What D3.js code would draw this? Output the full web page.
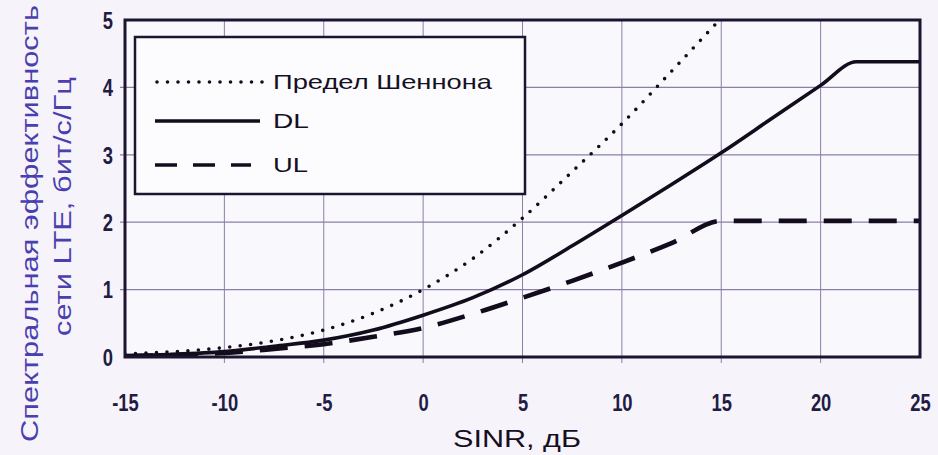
<!DOCTYPE html>
<html>
<head>
<meta charset="utf-8">
<script src="https://cdn.jsdelivr.net/npm/d3@7"></script>
<style>
  body { margin: 0; background: #f6f4fa; }
  svg { display: block; }
  .tick-label { font-family: "Liberation Sans", Arial, sans-serif; font-weight: bold; font-size: 23px; fill: #221c44; }
</style>
</head>
<body>
<script>
var sinr = [-15, -12.5, -10, -7.5, -5, -2.5, 0, 2.5, 5, 7.5, 10, 12.5, 15];
var shannon = [0.045, 0.08, 0.14, 0.24, 0.40, 0.65, 1.0, 1.46, 2.06, 2.75, 3.46, 4.24, 5.03];

var sinrDL = [-15, -12.5, -10, -7.5, -5, -2.5, 0, 2.5, 5, 7.5, 10, 12.5, 15, 17.5, 20, 21.8, 25];
var dl = [0.02, 0.04, 0.08, 0.16, 0.25, 0.40, 0.62, 0.88, 1.22, 1.65, 2.1, 2.56, 3.03, 3.53, 4.03, 4.38, 4.38];

var sinrUL = [-15, -12.5, -10, -7.5, -5, -2.5, 0, 2.5, 5, 7.5, 10, 12.5, 15, 25];
var ul = [0.01, 0.03, 0.06, 0.12, 0.19, 0.30, 0.43, 0.64, 0.88, 1.13, 1.40, 1.69, 2.02, 2.02];

var xTicks = [-15, -10, -5, 0, 5, 10, 15, 20, 25];
var yTicks = [0, 1, 2, 3, 4, 5];

var legendNames = ["Предел Шеннона", "DL", "UL"];

// svg size and margins
var svgWidth = 938;
var svgHeight = 455;
var margin = { top: 20, right: 18, bottom: 98, left: 125 };
var width = svgWidth - margin.left - margin.right;
var height = svgHeight - margin.top - margin.bottom;

var svg = d3.select("body").append("svg")
  .attr("width", svgWidth)
  .attr("height", svgHeight);

var g = svg.append("g")
  .attr("transform", `translate(${margin.left}, ${margin.top})`);

var x = d3.scaleLinear().domain([-15, 25]).range([0, width]);
var y = d3.scaleLinear().domain([0, 5]).range([height, 0]);

// plot background
g.append("rect")
  .attr("width", width)
  .attr("height", height)
  .attr("fill", "#f9f8fc");

// grid lines
g.append("g")
  .selectAll("line")
  .data(xTicks.slice(1, -1))
  .enter()
  .append("line")
  .attr("x1", d => x(d)).attr("x2", d => x(d))
  .attr("y1", 0).attr("y2", height + 6)
  .attr("stroke", "#8c7ea6")
  .attr("stroke-width", 1);

g.append("g")
  .selectAll("line")
  .data(yTicks.slice(1, -1))
  .enter()
  .append("line")
  .attr("x1", -5).attr("x2", width)
  .attr("y1", d => y(d)).attr("y2", d => y(d))
  .attr("stroke", "#8c7ea6")
  .attr("stroke-width", 1.2);

// legend box (white, covers grid)
var legend = g.append("g").attr("transform", "translate(10, 17)");
legend.append("rect")
  .attr("width", 390)
  .attr("height", 157)
  .attr("fill", "#fcfbfe")
  .attr("stroke", "#1c1530")
  .attr("stroke-width", 2.5);

// axes: only tick labels, frame drawn separately
var xAxis = g.append("g")
  .attr("transform", `translate(0, ${height})`)
  .call(d3.axisBottom(x).tickValues(xTicks).tickFormat(d => String(d)).tickSize(0).tickPadding(38));
var yAxis = g.append("g")
  .call(d3.axisLeft(y).tickValues(yTicks).tickFormat(d => String(d)).tickSize(0).tickPadding(15));
[xAxis, yAxis].forEach(function(a) {
  a.select(".domain").remove();
  a.selectAll("text")
    .attr("class", "tick-label")
    .attr("transform", "scale(0.8, 1)"); // narrow look of the original
});
yAxis.selectAll("text").attr("dy", "0.36em");

// clip curves to the plot
svg.append("clipPath").attr("id", "plot-clip")
  .append("rect").attr("width", width).attr("height", height);

var line = d3.line()
  .x(d => x(d[0]))
  .y(d => y(d[1]))
  .curve(d3.curveMonotoneX);

var curves = g.append("g").attr("clip-path", "url(#plot-clip)");

curves.append("path")
  .datum(sinr.map((s, i) => [s, shannon[i]]))
  .attr("d", line)
  .attr("fill", "none")
  .attr("stroke", "#120c1c")
  .attr("stroke-width", 3.6)
  .attr("stroke-linecap", "round")
  .attr("stroke-dasharray", "0 10.5");

curves.append("path")
  .datum(sinrUL.map((s, i) => [s, ul[i]]))
  .attr("d", line)
  .attr("fill", "none")
  .attr("stroke", "#120c1c")
  .attr("stroke-width", 4.6)
  .attr("stroke-dasharray", "28 17");

curves.append("path")
  .datum(sinrDL.map((s, i) => [s, dl[i]]))
  .attr("d", line)
  .attr("fill", "none")
  .attr("stroke", "#120c1c")
  .attr("stroke-width", 3.6);

// frame
g.append("rect")
  .attr("width", width)
  .attr("height", height)
  .attr("fill", "none")
  .attr("stroke", "#1c1530")
  .attr("stroke-width", 3);

// legend entries
var legendStyles = [
  { dash: "0 10.5", width: 3.6, cap: "round", x1: 22, x2: 128, y: 45 },
  { dash: null, width: 3.6, cap: "butt", x1: 20, x2: 125, y: 84 },
  { dash: "22 16", width: 3.6, cap: "butt", x1: 20, x2: 116, y: 128 }
];
var legendText = [219, 36, 35];

legendNames.forEach(function(name, i) {
  var s = legendStyles[i];
  legend.append("line")
    .attr("x1", s.x1).attr("x2", s.x2)
    .attr("y1", s.y).attr("y2", s.y)
    .attr("stroke", "#120c1c")
    .attr("stroke-width", s.width)
    .attr("stroke-linecap", s.cap)
    .attr("stroke-dasharray", s.dash);
  legend.append("text")
    .attr("x", 138)
    .attr("y", s.y + 7)
    .attr("textLength", legendText[i])
    .attr("lengthAdjust", "spacingAndGlyphs")
    .style("font-family", "'Liberation Sans', Arial, sans-serif")
    .style("font-size", "21px")
    .style("fill", "#15101f")
    .text(name);
});

// axis titles
svg.append("text")
  .attr("x", 453)
  .attr("y", 447)
  .attr("textLength", 128)
  .attr("lengthAdjust", "spacingAndGlyphs")
  .style("font-family", "'Liberation Sans', Arial, sans-serif")
  .style("font-size", "24px")
  .style("fill", "#15101f")
  .text("SINR, дБ");

var yTitle = svg.append("g")
  .attr("transform", "translate(0, 0) rotate(-90)")
  .style("font-family", "'Liberation Sans', Arial, sans-serif")
  .style("font-size", "23px")
  .style("fill", "#4a3fae");

yTitle.append("text")
  .attr("x", -442)
  .attr("y", 38)
  .attr("textLength", 437)
  .attr("lengthAdjust", "spacingAndGlyphs")
  .text("Спектральная  эффективность");

yTitle.append("text")
  .attr("x", -336)
  .attr("y", 71)
  .attr("textLength", 259)
  .attr("lengthAdjust", "spacingAndGlyphs")
  .text("сети LTE,  бит/с/Гц");
</script>
</body>
</html>
